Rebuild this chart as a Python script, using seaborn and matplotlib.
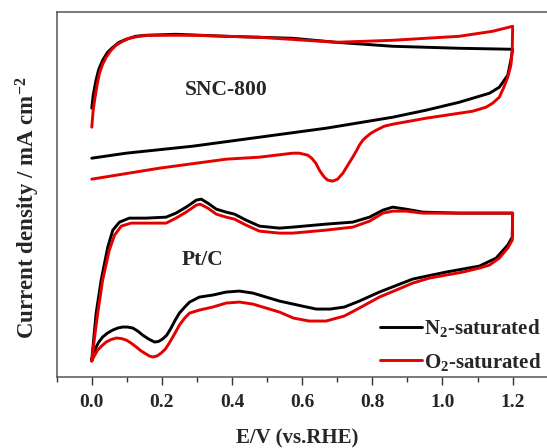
import numpy as np
import pandas as pd
import matplotlib
matplotlib.use("Agg")
import matplotlib.pyplot as plt
from matplotlib.lines import Line2D
from matplotlib.ticker import MultipleLocator
import seaborn as sns

# ---------------- data (potential V vs RHE, current density arb. mA cm^-2) -------------
snc_n2_E = [0, 0.004, 0.012, 0.02, 0.031, 0.045, 0.06, 0.078, 0.098, 0.125, 0.155, 0.24, 0.383,
            0.573, 0.697, 0.858, 1.048, 1.2, 1.195, 1.186, 1.162, 1.134, 1.048, 0.953, 0.858,
            0.668, 0.478, 0.288, 0.098, 0]
snc_n2_j = [2.69, 2.82, 2.97, 3.08, 3.17, 3.25, 3.30, 3.35, 3.38, 3.41, 3.42, 3.43, 3.41,
            3.39, 3.35, 3.31, 3.29, 3.28, 3.17, 3.02, 2.90, 2.84, 2.75, 2.67, 2.60,
            2.49, 2.40, 2.31, 2.24, 2.19]

snc_o2_E = [0, 0.004, 0.008, 0.015, 0.022, 0.031, 0.041, 0.055, 0.069, 0.088, 0.107, 0.135, 0.164,
            0.288, 0.478, 0.697, 0.858, 1.048, 1.143, 1.2, 1.199, 1.195, 1.186, 1.175, 1.162,
            1.143, 1.124, 1.086, 1.048, 0.953, 0.858, 0.834, 0.811, 0.796, 0.782, 0.773, 0.763,
            0.754, 0.744, 0.730, 0.716, 0.701, 0.687, 0.673, 0.663, 0.649, 0.639, 0.627, 0.616,
            0.592, 0.573, 0.478, 0.383, 0.193, 0]
snc_o2_j = [2.50, 2.67, 2.77, 2.92, 3.04, 3.13, 3.20, 3.27, 3.32, 3.36, 3.39, 3.41, 3.42,
            3.42, 3.40, 3.35, 3.37, 3.41, 3.46, 3.51, 3.27, 3.12, 3.00, 2.90, 2.80,
            2.74, 2.70, 2.66, 2.64, 2.59, 2.53, 2.51, 2.47, 2.44, 2.40, 2.37, 2.32,
            2.26, 2.20, 2.12, 2.04, 1.98, 1.96, 1.97, 2.00, 2.07, 2.14, 2.19, 2.22,
            2.24, 2.24, 2.20, 2.18, 2.09, 1.98]

ptc_n2_E = [0, 0.006, 0.0125, 0.0268, 0.0456, 0.06, 0.079, 0.107, 0.155, 0.212, 0.24, 0.269,
            0.298, 0.312, 0.331, 0.355, 0.383, 0.407, 0.44, 0.478, 0.535, 0.573, 0.668, 0.744,
            0.792, 0.830, 0.858, 0.896, 0.944, 1.048, 1.2,
            1.199, 1.186, 1.153, 1.105, 1.010, 0.915, 0.82, 0.763, 0.72, 0.68, 0.64, 0.60,
            0.535, 0.497, 0.459, 0.421, 0.383, 0.345, 0.307, 0.279, 0.265, 0.25, 0.238, 0.226,
            0.214, 0.202, 0.19, 0.179, 0.162, 0.145, 0.131, 0.117, 0.102, 0.088, 0.074, 0.06,
            0.045, 0.031, 0.02, 0.0125, 0.005, 0]
ptc_n2_j = [0.17, 0.40, 0.64, 0.97, 1.30, 1.47, 1.55, 1.59, 1.59, 1.60, 1.64, 1.70,
            1.77, 1.78, 1.74, 1.68, 1.65, 1.63, 1.57, 1.51, 1.49, 1.50, 1.53, 1.55,
            1.60, 1.67, 1.70, 1.68, 1.65, 1.64, 1.64,
            1.40, 1.32, 1.19, 1.11, 1.05, 0.98, 0.85, 0.76, 0.70, 0.68, 0.68, 0.71,
            0.76, 0.80, 0.84, 0.86, 0.85, 0.82, 0.80, 0.75, 0.70, 0.64, 0.57, 0.49,
            0.42, 0.38, 0.355, 0.35, 0.38, 0.42, 0.46, 0.49, 0.50, 0.50, 0.49, 0.47,
            0.44, 0.40, 0.35, 0.30, 0.23, 0.17]

ptc_o2_E = [0, 0.008, 0.017, 0.031, 0.05, 0.065, 0.084, 0.112, 0.155, 0.212, 0.24, 0.269,
            0.298, 0.309, 0.331, 0.355, 0.383, 0.407, 0.44, 0.478, 0.535, 0.573, 0.668, 0.744,
            0.792, 0.830, 0.858, 0.896, 0.944, 1.048, 1.2,
            1.199, 1.186, 1.162, 1.134, 1.105, 1.058, 1.010, 0.963, 0.915, 0.868, 0.82, 0.763,
            0.72, 0.668, 0.62, 0.575, 0.535, 0.497, 0.459, 0.421, 0.383, 0.345, 0.307, 0.279,
            0.265, 0.25, 0.236, 0.221, 0.21, 0.198, 0.186, 0.174, 0.164, 0.155, 0.141, 0.127,
            0.112, 0.098, 0.084, 0.07, 0.055, 0.041, 0.028, 0.017, 0.007, 0]
ptc_o2_j = [0.16, 0.40, 0.64, 0.97, 1.27, 1.42, 1.51, 1.54, 1.54, 1.54, 1.59, 1.65,
            1.72, 1.73, 1.69, 1.63, 1.60, 1.58, 1.52, 1.46, 1.44, 1.44, 1.47, 1.50,
            1.56, 1.64, 1.66, 1.66, 1.64, 1.64, 1.64,
            1.37, 1.29, 1.19, 1.12, 1.09, 1.05, 1.02, 0.99, 0.94, 0.87, 0.80, 0.69,
            0.61, 0.56, 0.56, 0.59, 0.65, 0.69, 0.73, 0.75, 0.74, 0.70, 0.67, 0.64,
            0.59, 0.52, 0.43, 0.34, 0.28, 0.24, 0.21, 0.20, 0.21, 0.23, 0.26, 0.30,
            0.34, 0.37, 0.385, 0.39, 0.375, 0.35, 0.31, 0.27, 0.21, 0.16]

gas_labels = ["N$_{\\mathbf{2}}$-saturated", "O$_{\\mathbf{2}}$-saturated"]
sample_labels = ["SNC-800", "Pt/C"]
x_ticks = [0.0, 0.2, 0.4, 0.6, 0.8, 1.0, 1.2]

# ---------------- style -------------
sns.set_theme(style="ticks")
plt.rcParams["font.family"] = ["Liberation Serif", "DejaVu Serif"]
plt.rcParams["font.weight"] = "bold"
plt.rcParams["mathtext.fontset"] = "custom"
plt.rcParams["mathtext.rm"] = "Liberation Serif:bold"
plt.rcParams["mathtext.bf"] = "Liberation Serif:bold"
plt.rcParams["mathtext.it"] = "Liberation Serif:bold"

colors = {"N2": "#000000", "O2": "#e50000"}

frames = []
for name, E, j, gas in [("snc_n2", snc_n2_E, snc_n2_j, "N2"),
                        ("snc_o2", snc_o2_E, snc_o2_j, "O2"),
                        ("ptc_n2", ptc_n2_E, ptc_n2_j, "N2"),
                        ("ptc_o2", ptc_o2_E, ptc_o2_j, "O2")]:
    frames.append(pd.DataFrame({"E": E, "j": j, "gas": gas, "curve": name}))
df = pd.concat(frames, ignore_index=True)

fig = plt.figure(figsize=(5.47, 4.48), dpi=100)
fig.patch.set_facecolor("white")
ax = fig.add_axes([56.7 / 547, 71 / 448, 491 / 547, 364.7 / 448])

sns.lineplot(data=df, x="E", y="j", hue="gas", units="curve", estimator=None,
             sort=False, palette=colors, linewidth=2.1, legend=False, ax=ax)
for ln in ax.lines:
    ln.set_solid_joinstyle("round")
    ln.set_solid_capstyle("round")

ax.set_xlim(-0.1, 1.3)
ax.set_ylim(0, 3.65)
ax.set_xticks(x_ticks)
ax.set_xticklabels([f"{t:.1f}" for t in x_ticks], fontsize=14, fontweight="bold")
ax.xaxis.set_minor_locator(MultipleLocator(0.1))
ax.set_yticks([])
ax.tick_params(axis="x", which="major", direction="out", length=6, width=1.0,
               color="#333333", pad=6)
ax.tick_params(axis="x", which="minor", direction="out", length=3.5, width=1.0,
               color="#333333")
ax.set_xlabel("")
ax.set_ylabel("")
for side in ["top", "left", "bottom"]:
    ax.spines[side].set_color("#555555")
    ax.spines[side].set_linewidth(1.1)
ax.spines["right"].set_visible(False)

ax.text(0.383, 2.87, sample_labels[0], ha="center", va="center", fontsize=15.5,
        fontweight="bold")
ax.text(0.316, 1.17, sample_labels[1], ha="center", va="center", fontsize=15.5,
        fontweight="bold")

handles = [Line2D([], [], color=colors["N2"], lw=2.1),
           Line2D([], [], color=colors["O2"], lw=2.1)]
leg = ax.legend(handles, gas_labels, loc="lower right", bbox_to_anchor=(0.988, 0.012),
                frameon=False, fontsize=15, handlelength=2.0, handletextpad=0.12,
                labelspacing=0.55, borderaxespad=0.0, borderpad=0.0)
for t in leg.get_texts():
    t.set_fontweight("bold")

fig.text(297 / 547, 1 - 438 / 448, "E/V (vs.RHE)", ha="center", va="center",
         fontsize=15, fontweight="bold")
fig.text(28 / 547, 1 - 208 / 448, "Current density / mA cm$^{\\mathbf{-2}}$",
         ha="center", va="center", rotation=90, fontsize=16.5, fontweight="bold")

fig.savefig("out.png", dpi=100, facecolor="white")
